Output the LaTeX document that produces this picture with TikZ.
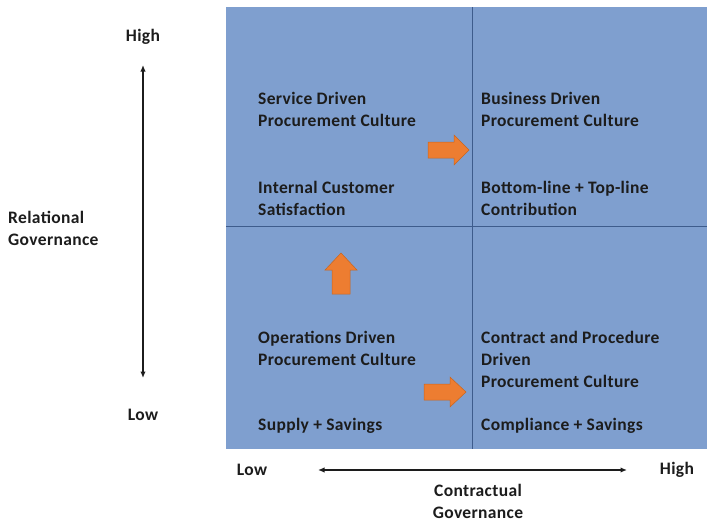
\documentclass[tikz,border=0pt]{standalone}
\usepackage{fontspec}
\setmainfont{Carlito}[LetterSpace=2]
\usepackage{tikz}
\usetikzlibrary{arrows.meta}
\definecolor{QuadFill}{HTML}{7F9FCF}
\definecolor{QuadLine}{HTML}{3E5C8C}
\definecolor{ShiftOrange}{HTML}{ED7D31}
\definecolor{ShiftEdge}{HTML}{C9651E}
\definecolor{LabelInk}{HTML}{1C1C1C}

\begin{document}
\begin{tikzpicture}[x=1pt,y=-1pt,
  lbl/.style={font=\bfseries\fontsize{17.5}{22}\selectfont,LabelInk,inner sep=0pt,align=left},
  quad/.style={lbl,anchor=west},
  axis/.style={line width=1.5pt,LabelInk,{Latex[length=6.5pt,width=5.5pt]}-{Latex[length=6.5pt,width=5.5pt]}},
  blockarrow/.style={fill=ShiftOrange,draw=ShiftEdge,line width=0.5pt,line join=miter}]
  \useasboundingbox (0,0) rectangle (707,525);
  % the four quadrants
  \fill[QuadFill] (226,7) rectangle (707,449);
  \draw[QuadLine,line width=0.8pt] (472,7) -- (472,449);
  \draw[QuadLine,line width=0.8pt] (226,226) -- (707,226);
  \node[quad] (service)  at (258,109.5) {Service Driven\\Procurement Culture};
  \node[quad] (internal) at (258,198.5) {Internal Customer\\Satisfaction};
  \node[quad] (business) at (481,109.5) {Business Driven\\Procurement Culture};
  \node[quad] (bottomln) at (481,198.5) {Bottom-line + Top-line\\Contribution};
  \node[quad] (operation) at (258,348) {Operations Driven\\Procurement Culture};
  \node[quad] (supply)   at (258,426) {Supply + Savings};
  \node[quad] (contract) at (481,359) {Contract and Procedure\\Driven\\Procurement Culture};
  \node[quad] (comply)   at (481,426) {Compliance + Savings};
  % orange shift arrows
  \draw[blockarrow] (428,142) -- (454,142) -- (454,135) -- (469,150) -- (454,165) -- (454,158) -- (428,158) -- cycle;
  \draw[blockarrow] (332,294) -- (332,270) -- (325,270) -- (341,253) -- (357,270) -- (350,270) -- (350,294) -- cycle;
  \draw[blockarrow] (424,384) -- (450,384) -- (450,377) -- (466,392) -- (450,407) -- (450,400) -- (424,400) -- cycle;
  % relational governance axis
  \node[lbl] (yhigh) at (143,37) {High};
  \node[lbl] (ylow)  at (143,415) {Low};
  \node[lbl,anchor=west] (ytitle) at (8,228) {Relational\\Governance};
  \coordinate (ytop) at (143,65);
  \coordinate (ybot) at (143,378);
  \draw[axis] (ytop) -- (ybot);
  % contractual governance axis
  \node[lbl] (xlow)  at (252,470) {Low};
  \node[lbl] (xhigh) at (677,470) {High};
  \node[lbl,align=center] (xtitle) at (478,501) {Contractual\\Governance};
  \coordinate (xleft)  at (318,470);
  \coordinate (xright) at (627,470);
  \draw[axis] (xleft) -- (xright);
\end{tikzpicture}
\end{document}
